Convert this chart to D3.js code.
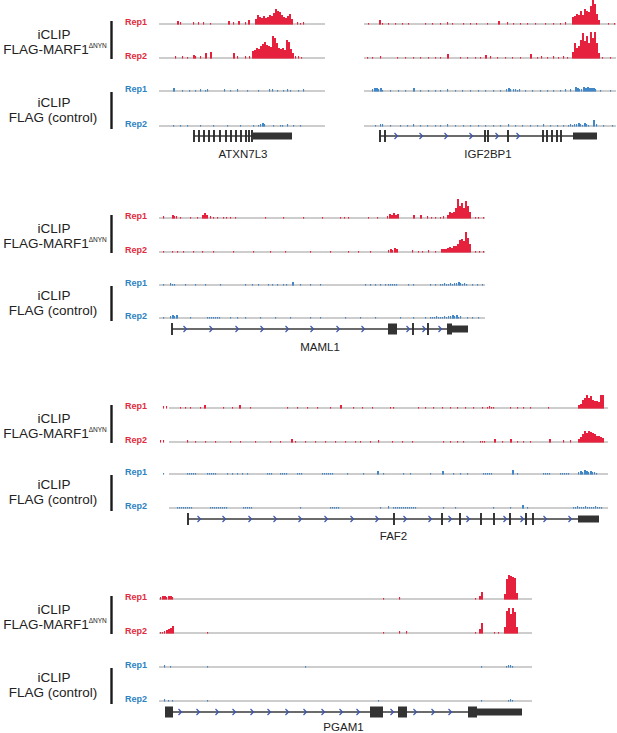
<!DOCTYPE html>
<html lang="en">
<head>
<meta charset="UTF-8">
<title>iCLIP coverage tracks</title>
<script src="https://cdn.jsdelivr.net/npm/d3@7"></script>
<style>
  body { margin: 0; background: #fff; }
  svg { display: block; font-family: "Liberation Sans", Arial, sans-serif; }
</style>
</head>
<body>
<div id="chart"></div>
<script>
// coverage runs: [start position, [signal per 2-unit bin ...]], positions relative to window start
// ---------- ATXN7L3 ----------
const atxnRed1 = [[18,[3]],[21,[2]],[34,[2]],[39,[2]],[44,[2]],[51,[1]],[69,[3]],[74,[2]],[79,[3]],[86,[2]],[89,[4]],
  [96,[5,9,7,6,8,6,7,9,8,11,15,13,12,9,7,6,8,10,5]],[138,[2]],[141,[1]],[144,[2]]];
const atxnRed2 = [[16,[2]],[23,[2]],[28,[1]],[34,[3]],[36,[2]],[41,[2]],[46,[5]],[51,[6]],[74,[5]],[78,[2]],[86,[2]],[90,[2]],
  [93,[7,8,10,9,12,14,16,13,12,11,22,20,15,10,9,10,8,18,16,9,5]],[136,[2]],[139,[2]],[142,[1]]];
const atxnBlue1 = [[14,[3]],[23,[1]],[30,[1]],[36,[1]],[41,[2]],[46,[1]],[48,[2]],[65,[2]],[71,[1]],[78,[2]],[88,[1]],[99,[1]],
  [110,[2]],[113,[2]],[118,[1]],[124,[1]],[128,[2]],[131,[1]],[139,[1]],[144,[2]]];
const atxnBlue2 = [[14,[1]],[21,[1]],[28,[1]],[41,[1]],[54,[1]],[68,[1]],[81,[1]],[94,[1]],[99,[1,2,3,2]],[114,[1]],[121,[1,1]],
  [128,[2]],[134,[1]],[141,[1]]];
const atxnGene = { span: [35, 133], exonBars: [35, 40, 45, 50, 55, 61, 67, 72, 77, 82, 87, 90, 93], cds: [], utr: [[94, 133]], strand: [] };

// ---------- IGF2BP1 ----------
const igfRed1 = [[4,[1]],[15,[4]],[18,[1]],[24,[1]],[31,[1]],[38,[1]],[44,[1]],[61,[1]],[68,[1]],[76,[1]],[83,[2]],[88,[1]],[99,[1]],
  [106,[1]],[112,[1]],[123,[1]],[134,[3]],[143,[2]],[149,[1]],[156,[1]],[163,[1]],[171,[1]],[181,[1]],[189,[1]],[196,[1]],[201,[2]],
  [208,[7,8,10,9,13,9,15,13,12,18,24,20,10,4]],[244,[1]],[250,[1]]];
const igfRed2 = [[3,[1]],[8,[1]],[16,[2]],[33,[1]],[41,[1]],[49,[1]],[56,[1]],[64,[1]],[71,[1]],[76,[1]],[83,[4]],[96,[1]],[103,[1]],
  [111,[1]],[116,[1]],[121,[3]],[126,[2]],[133,[1]],[141,[1]],[148,[1]],[156,[1]],[166,[4]],[173,[1]],[177,[2]],[183,[1]],[189,[2]],
  [194,[1]],[199,[2]],[203,[1]],[208,[6,15,10,12,18,25,17,22,15,26,20,26,15,5]],[238,[1]],[246,[1]]];
const igfBlue1 = [[8,[2,3,3,2,3,1]],[26,[1]],[34,[1]],[41,[1]],[49,[3]],[56,[1]],[64,[1]],[71,[1]],[76,[1]],[83,[2]],[91,[1]],[98,[1]],
  [106,[1]],[114,[1]],[121,[1]],[129,[1]],[136,[1]],[142,[2,3,2]],[149,[2,2,1,2]],[161,[1]],[168,[1]],[176,[1]],[183,[1]],[189,[1]],
  [196,[1]],[201,[2]],[206,[2]],[211,[4,3,2,2,4,3,4,3,3,3,2]],[236,[1]],[246,[1]]];
const igfBlue2 = [[11,[1]],[16,[2,2]],[26,[1]],[36,[1]],[43,[1]],[49,[2]],[56,[1]],[63,[1]],[71,[1]],[76,[1]],[83,[2]],[91,[1]],[99,[1]],
  [106,[1]],[114,[1]],[121,[1]],[129,[1]],[136,[1]],[144,[2]],[151,[1]],[158,[1]],[166,[1]],[173,[1]],[179,[2]],[186,[1]],[193,[1]],
  [199,[1]],[204,[1,2,1,2,2,3,2,1,3,2,1]],[229,[6]],[232,[2]],[239,[1]],[248,[1]]];
const igfGene = { span: [15, 233], exonBars: [16, 21, 121, 124, 144, 179, 183, 188, 193, 197], cds: [], utr: [[209, 233]],
  strand: [32, 57, 82, 107, 133, 154] };

// ---------- MAML1 ----------
const mamlRed1 = [[4,[2]],[13,[3,2,2]],[21,[1]],[31,[1]],[38,[1]],[43,[3,5,3]],[51,[2]],[54,[1]],[58,[1]],[64,[1]],[67,[1]],[71,[1]],
  [76,[1]],[106,[1]],[124,[1]],[144,[1]],[163,[1]],[181,[1]],[185,[1]],[189,[1]],[209,[1]],[218,[1]],[228,[2,4,3,5,3,4]],[254,[3]],
  [261,[3]],[268,[2]],[272,[1]],[276,[1]],[281,[1]],[284,[2]],[288,[3,6,5,6,10,19,12,15,10,17,12,6]],[316,[1]],[319,[1]],[324,[1]]];
const mamlRed2 = [[4,[1]],[13,[1]],[18,[1]],[24,[1]],[34,[1]],[43,[1]],[54,[1]],[74,[1]],[94,[1]],[111,[1]],[126,[1]],[151,[1]],
  [171,[1]],[189,[1]],[199,[1]],[211,[1]],[229,[2,3,2,4,3]],[253,[2]],[259,[1]],[263,[1]],[269,[2]],[276,[1]],
  [282,[3,3,3,4,5,4,6,6,8,12,13,11,20,14,8]],[316,[1]],[320,[1]],[324,[1]]];
const mamlBlue1 = [[4,[1]],[11,[2,1,1]],[26,[1]],[36,[1]],[46,[1]],[61,[1]],[86,[1]],[93,[1]],[99,[1]],[109,[1]],[113,[1]],[118,[1]],
  [124,[1]],[127,[1]],[133,[3]],[141,[1]],[151,[1]],[161,[1]],[206,[1]],[211,[1]],[216,[1]],[221,[1]],[226,[1]],[229,[1,1,1,1,1]],
  [249,[1]],[254,[1]],[271,[1]],[276,[1]],[281,[1,1,2,1,1,2,1,2,2,3,2,1,2,1]],[313,[1]],[318,[1]],[323,[1]]];
const mamlBlue2 = [[4,[1]],[11,[2,3,2,3]],[31,[1]],[48,[1,1,1,1,1,1,1]],[71,[1]],[78,[1]],[86,[1]],[101,[1]],[116,[1]],[131,[1]],
  [151,[1]],[161,[1]],[186,[1]],[201,[1]],[216,[1]],[241,[1]],[254,[1]],[266,[1]],[271,[1,1,1,2,1,1,1,2,1,2,2,3,2,3,1,2]],
  [308,[1]],[313,[1]],[319,[1]]];
const mamlGene = { span: [13, 309], exonBars: [13, 254, 269], cds: [[229, 238], [288, 293]], utr: [[293, 309]],
  strand: [26, 52, 78, 103, 128, 153, 179, 204, 249, 265, 281] };

// ---------- FAF2 ----------
const fafRed1 = [[-6,[2]],[-3,[2]],[11,[1]],[16,[1]],[21,[1]],[31,[1]],[35,[3]],[54,[1]],[63,[1]],[70,[3]],[81,[1]],[118,[1]],
  [128,[1]],[138,[1]],[148,[1]],[161,[1]],[171,[3]],[184,[1]],[193,[1]],[203,[1]],[221,[1]],[224,[1]],[249,[1]],[256,[1]],
  [264,[1]],[273,[1]],[281,[1]],[288,[1]],[296,[1]],[304,[1]],[313,[1]],[318,[1,2,1,1]],[341,[1]],[348,[1]],[354,[1]],[361,[1]],
  [379,[1]],[409,[3,4,8,10,13,10,12,8,7,7,6,13,13]]];
const fafRed2 = [[-9,[2]],[-6,[2]],[18,[2]],[26,[1]],[36,[1]],[46,[1]],[61,[1]],[71,[1]],[86,[1]],[101,[1]],[111,[1]],[122,[3]],
  [126,[1]],[136,[1]],[146,[1]],[156,[1]],[166,[1]],[176,[1]],[186,[1]],[191,[1]],[201,[1]],[209,[2]],[223,[1]],[233,[1]],
  [243,[1]],[274,[1]],[281,[1]],[288,[1]],[294,[1]],[311,[1,1,1]],[325,[3]],[333,[1]],[341,[3]],[348,[1]],[354,[1]],[361,[1]],
  [380,[3]],[394,[2]],[401,[2]],[409,[3,5,8,11,9,11,10,9,8,6,6,5,4]]];
const fafBlue1 = [[-6,[1]],[18,[1,1,1,1,1]],[38,[1,1,1,1,1]],[58,[1]],[63,[1]],[68,[1]],[73,[1]],[78,[1]],[98,[1,1,1]],
  [111,[1,1,1,1]],[128,[1,1,1]],[153,[1,1,1,1,1,1]],[178,[1]],[194,[1]],[208,[3]],[214,[1]],[234,[1]],[241,[1]],[261,[1]],
  [273,[3]],[284,[1]],[291,[1]],[298,[1]],[314,[1,1,1,1,1]],[343,[4]],[348,[1]],[374,[1,1,1,1]],[391,[1,1,1,1,1]],
  [409,[2,3,2,4,3,2,3,2,2,1]]];
const fafBlue2 = [[8,[1,1,1,1,1,1,1,1]],[41,[1,1,1,1,1,1,1,1,1]],[74,[1,1,1,1,1]],[131,[1]],[161,[1,1,1,1,1]],[211,[1]],
  [219,[2]],[224,[1,1,1,1,1,1,1,1,1,1,1,1]],[274,[1]],[286,[1]],[324,[1]],[341,[1]],[353,[3]],[358,[1]],
  [404,[1,1,2,1,1,1,2,1,1,1,1,2,1,1,1]]];
const fafGene = { span: [19, 430], exonBars: [19, 225, 273, 291, 312, 325, 341, 357, 364], cds: [], utr: [[409, 430]],
  strand: [30, 55, 81, 106, 131, 157, 183, 208, 236, 261, 281, 299, 336, 353, 376, 401] };

// ---------- PGAM1 ----------
const pgamRed1 = [[1,[2,3,3,2,3,3,2]],[224,[1]],[240,[2]],[316,[1]],[320,[3,7]],[345,[5,20,24,23,22,21,6]]];
const pgamRed2 = [[1,[1,1,2,3,4,5,7]],[48,[1]],[224,[1]],[240,[2]],[247,[2]],[316,[1]],[320,[4,10]],[335,[1]],[339,[1]],
  [345,[6,22,25,19,25,21,6]]];
const pgamBlue1 = [[5,[2]],[11,[1]],[48,[1]],[146,[1]],[322,[1]],[347,[1,2,2,1]]];
const pgamBlue2 = [[5,[2]],[9,[1]],[13,[1]],[48,[1]],[219,[1]],[322,[1]],[349,[1,2,1]]];
const pgamGene = { span: [6, 363], exonBars: [], cds: [[6, 14], [211, 224], [239, 248], [309, 318]], utr: [[318, 363]],
  strand: [21, 39, 58, 75, 93, 110, 128, 146, 164, 182, 199, 233, 256, 274, 291] };

const repLabels = ["Rep1", "Rep2", "Rep1", "Rep2"];

// ---------- layout ----------
const RED = "#e5213d", BLUE = "#4186c6";
const REP_RED = "#e22a40", REP_BLUE = "#2f83c2";
const panels = [
  { name: "ATXN7L3", x0: 159, len: 166, ys: [24, 58, 91, 126], geneY: 136, labelY: 158, side: true,
    tracks: [atxnRed1, atxnRed2, atxnBlue1, atxnBlue2], gene: atxnGene },
  { name: "IGF2BP1", x0: 364, len: 252, ys: [24, 58, 91, 126], geneY: 136, labelY: 158, side: false,
    tracks: [igfRed1, igfRed2, igfBlue1, igfBlue2], gene: igfGene },
  { name: "MAML1", x0: 159, len: 326, ys: [218, 252, 285, 318], geneY: 329, labelY: 351, side: true,
    tracks: [mamlRed1, mamlRed2, mamlBlue1, mamlBlue2], gene: mamlGene },
  { name: "FAF2", x0: 169, len: 439, ys: [408, 442, 474, 508], geneY: 519, labelY: 540, side: true,
    tracks: [fafRed1, fafRed2, fafBlue1, fafBlue2], gene: fafGene },
  { name: "PGAM1", x0: 159, len: 373, ys: [599, 633, 667, 701], geneY: 712, labelY: 731, side: true,
    tracks: [pgamRed1, pgamRed2, pgamBlue1, pgamBlue2], gene: pgamGene }
];

const width = 617, height = 733;
const svg = d3.select("#chart").append("svg")
  .attr("width", width)
  .attr("height", height);

// signal -> pixel height
const h = d3.scaleLinear().domain([0, 26]).range([0, 26]);

panels.forEach(p => {
  const x = d3.scaleLinear().domain([0, p.len]).range([p.x0, p.x0 + p.len]);
  const g = svg.append("g");

  // coverage tracks
  p.tracks.forEach((runs, i) => {
    const base = p.ys[i];
    const col = i < 2 ? RED : BLUE;
    g.append("line")
      .attr("x1", x(0)).attr("x2", x(p.len))
      .attr("y1", base).attr("y2", base)
      .attr("stroke", "#bcbcbc").attr("stroke-width", 1.4);
    const bins = runs.flatMap(([s, vals]) => vals.map((v, k) => ({ pos: s + k * 2, v })));
    // low counts show as separate thin ticks, piles as solid bars
    g.selectAll(null).data(bins).join("rect")
      .attr("x", d => x(d.pos))
      .attr("width", d => d.v >= 3 ? x(2) - x(0) : 1.1)
      .attr("y", d => base - h(d.v))
      .attr("height", d => h(d.v) + 0.6)
      .attr("fill", col);

    if (p.side) {
      g.append("text")
        .attr("x", 125).attr("y", base + 1)
        .attr("font-size", 9).attr("font-weight", "bold")
        .attr("fill", i < 2 ? REP_RED : REP_BLUE)
        .text(repLabels[i]);
    }
  });

  // side labels and brackets
  if (p.side) {
    const redMid = (p.ys[0] + p.ys[1]) / 2;
    const blueMid = (p.ys[2] + p.ys[3]) / 2;
    g.append("line").attr("x1", 111.5).attr("x2", 111.5)
      .attr("y1", p.ys[0] - 3).attr("y2", p.ys[1] + 1)
      .attr("stroke", "#1a1a1a").attr("stroke-width", 2.4);
    g.append("line").attr("x1", 111.5).attr("x2", 111.5)
      .attr("y1", p.ys[2] + 1).attr("y2", p.ys[3] + 3)
      .attr("stroke", "#1a1a1a").attr("stroke-width", 2.4);

    const side = g.append("g").attr("font-size", 13.5).attr("fill", "#222").attr("text-anchor", "middle");
    side.append("text").attr("x", 54).attr("y", redMid - 2).text("iCLIP");
    const t = side.append("text").attr("x", 55).attr("y", redMid + 12.5);
    t.append("tspan").text("FLAG-MARF1");
    t.append("tspan").attr("font-size", 6.5).attr("dy", -5.5).text("\u0394NYN");
    side.append("text").attr("x", 54).attr("y", blueMid - 2).text("iCLIP");
    side.append("text").attr("x", 53).attr("y", blueMid + 13).text("FLAG (control)");
  }

  // gene model
  const gm = p.gene, gy = p.geneY;
  g.append("line")
    .attr("x1", x(gm.span[0])).attr("x2", x(gm.span[1]))
    .attr("y1", gy).attr("y2", gy)
    .attr("stroke", "#3a3a3a").attr("stroke-width", 1.3);
  g.selectAll(null).data(gm.strand).join("path")
    .attr("d", d => `M${x(d) - 1.5},${gy - 3}L${x(d) + 1.5},${gy}L${x(d) - 1.5},${gy + 3}`)
    .attr("fill", "none").attr("stroke", "#3b55b3").attr("stroke-width", 1.2);
  g.selectAll(null).data(gm.exonBars).join("line")
    .attr("x1", d => x(d)).attr("x2", d => x(d))
    .attr("y1", gy - 6).attr("y2", gy + 6)
    .attr("stroke", "#2e2e2e").attr("stroke-width", 1.9);
  g.selectAll(null).data(gm.cds).join("rect")
    .attr("x", d => x(d[0])).attr("width", d => x(d[1]) - x(d[0]))
    .attr("y", gy - 5.5).attr("height", 11)
    .attr("fill", "#333");
  g.selectAll(null).data(gm.utr).join("rect")
    .attr("x", d => x(d[0])).attr("width", d => x(d[1]) - x(d[0]))
    .attr("y", gy - 3.5).attr("height", 7)
    .attr("fill", "#333");

  g.append("text")
    .attr("x", x((gm.span[0] + gm.span[1]) / 2)).attr("y", p.labelY)
    .attr("text-anchor", "middle").attr("font-size", 11.5).attr("fill", "#222")
    .text(p.name);
});
</script>
</body>
</html>
